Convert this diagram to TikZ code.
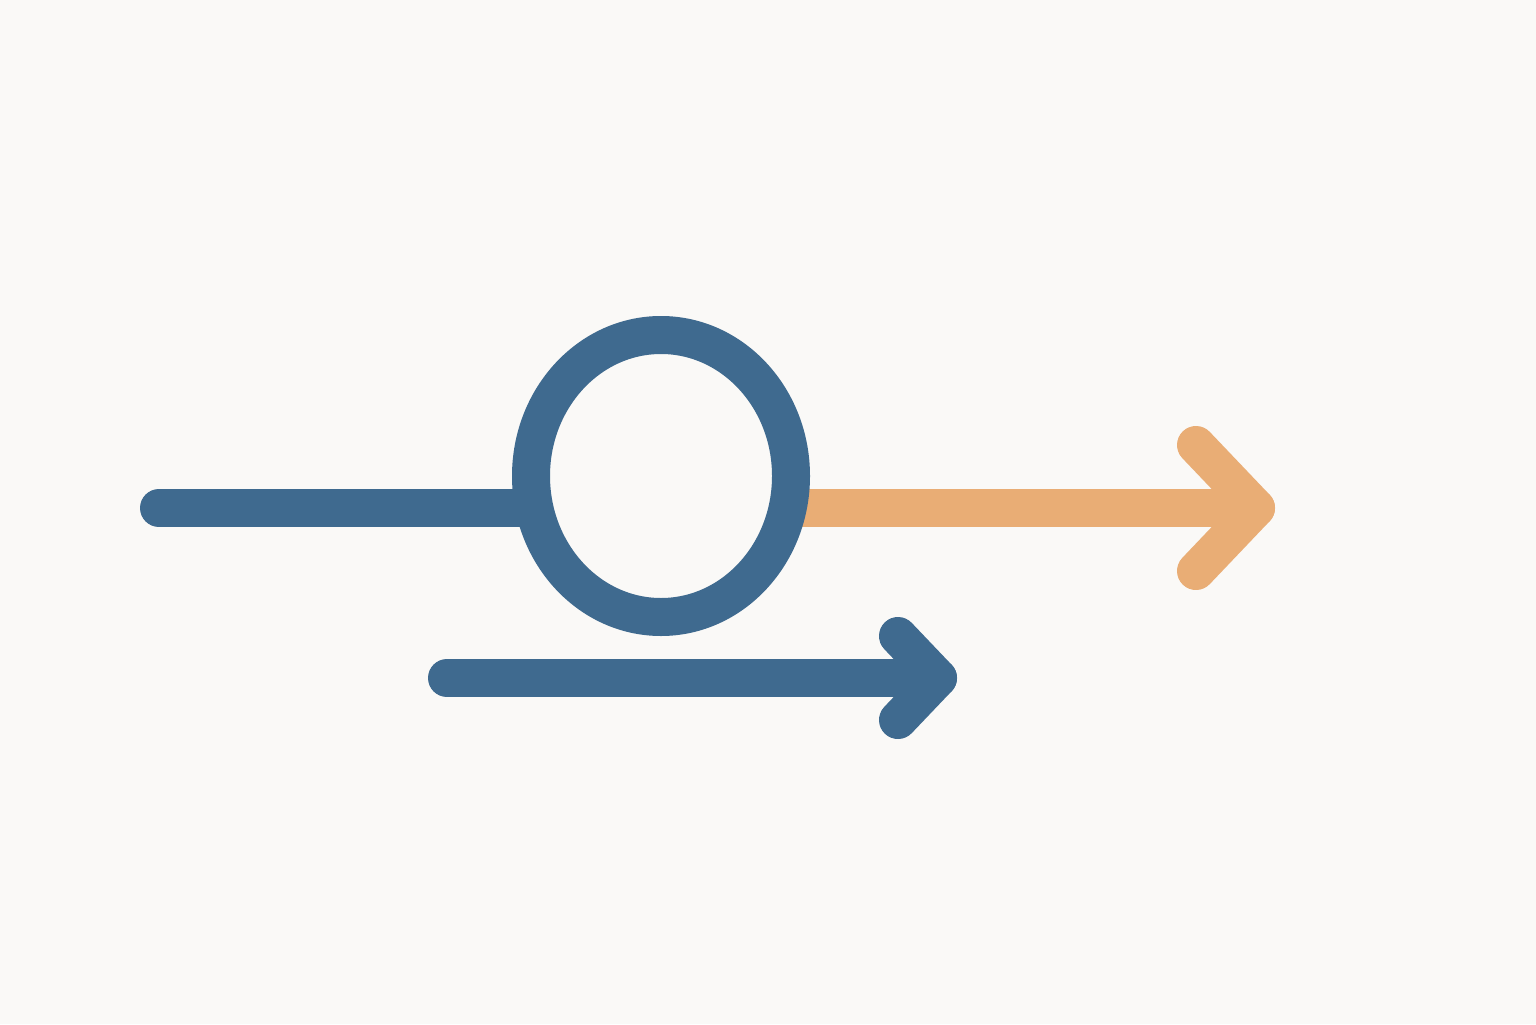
\documentclass[tikz,border=0pt]{standalone}
\usepackage{tikz}
\usetikzlibrary{calc}
\definecolor{paper}{HTML}{FAF9F7}
\definecolor{steelblue}{HTML}{3F6A8F}
\definecolor{sandorange}{HTML}{E9AD75}
\tikzset{
	thick stroke/.style={line width=3.8mm, line cap=round, line join=round},
}
\begin{document}
\begin{tikzpicture}
		%%%%% START %%%%%
		
		\fill[paper] (0, 0) rectangle (15.36, 10.24);
		\useasboundingbox (0, 0) rectangle (15.36, 10.24);
		
		\coordinate (lineStart) at (1.59, 5.16);
		\coordinate (lineEnd) at (5.3, 5.16);
		\coordinate (ringCenter) at (6.61, 5.48);
		\coordinate (outStart) at (8.0, 5.16);
		\coordinate (outTip) at (12.56, 5.16);
		\coordinate (outTop) at (11.96, 5.79);
		\coordinate (outBottom) at (11.96, 4.53);
		\coordinate (lowStart) at (4.47, 3.46);
		\coordinate (lowTip) at (9.38, 3.46);
		\coordinate (lowTop) at (8.98, 3.88);
		\coordinate (lowBottom) at (8.98, 3.04);
		
		% incoming line
		\draw[thick stroke, color=steelblue] (lineStart) -- (lineEnd);
		
		% outgoing arrow
		\draw[thick stroke, color=sandorange] (outStart) -- (outTip);
		\draw[thick stroke, color=sandorange] (outTop) -- (outTip) -- (outBottom);
		
		% loop
		\draw[thick stroke, color=steelblue] (ringCenter) ellipse (1.3 and 1.41);
		
		% lower arrow
		\draw[thick stroke, color=steelblue] (lowStart) -- (lowTip);
		\draw[thick stroke, color=steelblue] (lowTop) -- (lowTip) -- (lowBottom);
		
		%%%%% END %%%%%
	\end{tikzpicture}
\end{document}
